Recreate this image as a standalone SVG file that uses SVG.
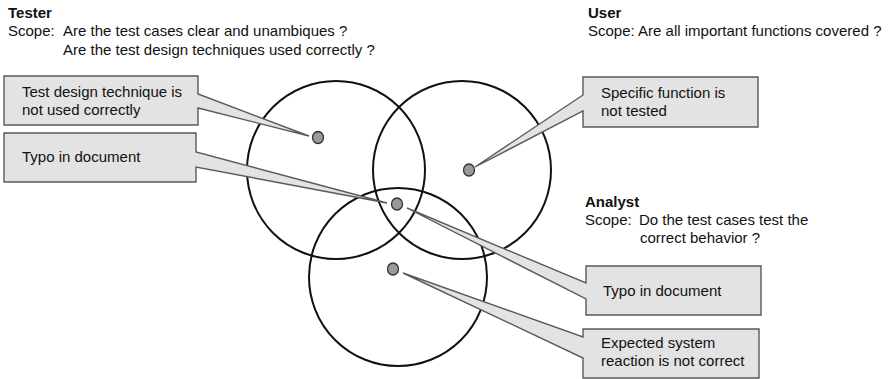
<svg xmlns="http://www.w3.org/2000/svg" width="891" height="379" viewBox="0 0 891 379">
  <style>
    text { font-family: "Liberation Sans", Arial, sans-serif; font-size: 15px; fill: #111; }
    .title { font-weight: bold; }
    .ring { fill: none; stroke: #111; stroke-width: 2; }
    .callout { fill: #e3e3e3; stroke: #5a5a5a; stroke-width: 1.4; stroke-linejoin: miter; }
    .dot { fill: #9a9a9a; stroke: #333; stroke-width: 1.3; }
  </style>
  <rect width="891" height="379" fill="#fff"/>

  <!-- Scope headings -->
  <g id="tester-scope">
    <text class="title" x="8" y="18">Tester</text>
    <text x="8" y="36">Scope:</text>
    <text x="63" y="36">Are the test cases clear and unambiques ?</text>
    <text x="63" y="55">Are the test design techniques used correctly ?</text>
  </g>
  <g id="user-scope">
    <text class="title" x="588" y="18">User</text>
    <text x="588" y="36">Scope: Are all important functions covered ?</text>
  </g>
  <g id="analyst-scope">
    <text class="title" x="585" y="207">Analyst</text>
    <text x="585" y="225">Scope:</text>
    <text x="639" y="225">Do the test cases test the</text>
    <text x="640" y="243">correct behavior ?</text>
  </g>

  <!-- Overlapping scope circles -->
  <g id="circles">
    <circle id="tester-circle" class="ring" cx="336" cy="170" r="89"/>
    <circle id="user-circle" class="ring" cx="462" cy="170" r="89"/>
    <circle id="analyst-circle" class="ring" cx="398" cy="277" r="89"/>
  </g>

  <!-- Callout boxes with wedge pointers -->
  <g id="connectors">
    <g id="callout-technique">
      <path class="callout" d="M4,76 H198 V94 L309,136 L198,108 V125 H4 Z"/>
      <text x="22" y="97">Test design technique is</text>
      <text x="22" y="115">not used correctly</text>
    </g>
    <g id="callout-typo-left">
      <path class="callout" d="M4,133 H196 V152 L387,203 L196,167 V182 H4 Z"/>
      <text x="22" y="162">Typo in document</text>
    </g>
    <g id="callout-function">
      <path class="callout" d="M583,77 H758 V127 H583 V111 L475,167 L583,95 Z"/>
      <text x="601" y="98">Specific function is</text>
      <text x="601" y="116">not tested</text>
    </g>
    <g id="callout-typo-right">
      <path class="callout" d="M586,266 H761 V315 H586 V299 L407,208 L586,283 Z"/>
      <text x="603" y="296">Typo in document</text>
    </g>
    <g id="callout-reaction">
      <path class="callout" d="M583,329 H759 V378 H583 V358 L403,273 L583,337 Z"/>
      <text x="601" y="348">Expected system</text>
      <text x="601" y="366">reaction is not correct</text>
    </g>
  </g>

  <!-- Defect markers -->
  <g id="dots">
    <ellipse class="dot" cx="318" cy="137.5" rx="5.5" ry="6"/>
    <ellipse class="dot" cx="469" cy="170" rx="5.5" ry="6"/>
    <ellipse class="dot" cx="397" cy="204" rx="5.5" ry="6"/>
    <ellipse class="dot" cx="393" cy="269" rx="5.5" ry="6"/>
  </g>
</svg>
